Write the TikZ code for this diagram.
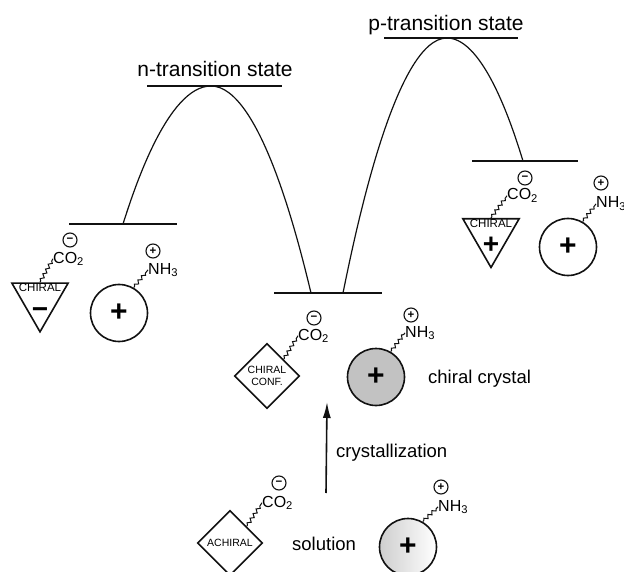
\documentclass[tikz,border=0pt]{standalone}
\usepackage{fontspec}
\setmainfont{Liberation Sans}
\usepackage{xcolor}
\usepackage{tikz}
\usetikzlibrary{arrows.meta,positioning,shapes.geometric,decorations.pathmorphing}
\definecolor{EnInk}{HTML}{111111}
\definecolor{EnStipple}{HTML}{C2C2C2}
\tikzset{
  elevel/.style={draw=EnInk,line width=2.2pt},
  ebarrier/.style={draw=EnInk,line width=1.2pt},
  etitle/.style={font=\fontsize{21}{25}\selectfont,inner sep=0pt},
  elabel/.style={font=\fontsize{18.5}{22}\selectfont,inner sep=0pt},
  echem/.style={font=\fontsize{16}{18}\selectfont,inner sep=0pt},
  etag/.style={font=\fontsize{11.5}{12}\selectfont,inner sep=0pt},
  echg/.style={circle,draw=EnInk,line width=1.1pt,inner sep=0pt,minimum size=14pt,
    font=\fontsize{11.5}{11.5}\selectfont\bfseries},
  esign/.style={font=\fontsize{28}{28}\selectfont\bfseries,inner sep=0pt},
  etri/.style={regular polygon,regular polygon sides=3,shape border rotate=180,
    draw=EnInk,line width=1.6pt,minimum size=65pt,inner sep=0pt},
  ediam/.style={diamond,aspect=1,draw=EnInk,line width=1.6pt,minimum size=65pt,
    inner sep=0pt,align=center,font=\fontsize{10.5}{12}\selectfont},
  eion/.style={circle,draw=EnInk,line width=1.6pt,minimum size=57pt,inner sep=0pt,
    font=\fontsize{30}{30}\selectfont\bfseries},
  ewavy/.style={draw=EnInk,line width=1pt,decorate,
    decoration={snake,segment length=5.5pt,amplitude=1.6pt,pre length=1.5pt,post length=1.5pt}},
  earrow/.style={-{Latex[length=16pt,width=8pt]},line width=1.6pt,EnInk}
}

\begin{document}
\begin{tikzpicture}[x=1pt,y=-1pt]
  \path[use as bounding box] (0,0) rectangle (624,572);

  % energy levels
  \foreach \lv/\xa/\xb/\yy in {lvlL/69/177/224,tsN/147/282/86,lvlM/274/382/293,tsP/384/518/38,lvlR/472/578/161}{
    \coordinate (\lv-w) at (\xa,\yy);
    \coordinate (\lv-e) at (\xb,\yy);
    \draw[elevel] (\lv-w) -- (\lv-e);
  }
  \coordinate (lvlL-c) at (123,224);
  \coordinate (tsN-c) at (211,86);
  \coordinate (lvlM-a) at (311,293);
  \coordinate (lvlM-b) at (343,293);
  \coordinate (tsP-c) at (447,38);
  \coordinate (lvlR-c) at (523,161);
  \draw[ebarrier] (lvlL-c) parabola bend (tsN-c) (lvlM-a);
  \draw[ebarrier] (lvlM-b) parabola bend (tsP-c) (lvlR-c);

  \node[etitle,anchor=base] (tsNlab) at (215,77) {n-transition state};
  \node[etitle,anchor=base] (tsPlab) at (446,31) {p-transition state};

  % left pair
  \node[etri] (triL) at (40,299.3) {};
  \node[etag,below=1.5pt of triL.north] (triLtag) {CHIRAL};
  \node[esign] (triLsg) at (40,313) {−};
  \node[echem,anchor=base west] (coL) at (53,263) {CO\textsubscript{2}};
  \node[echg] (coLq) at (70,240) {−};
  \draw[ewavy] (triL.north) -- (coL.west);
  \node[eion] (ionL) at (119,313) {+};
  \node[echem,anchor=base west] (nhL) at (148,274) {NH\textsubscript{3}};
  \node[echg] (nhLq) at (153,251) {+};
  \draw[ewavy] (ionL.60) -- (nhL.west);

  % right pair
  \node[etri] (triR) at (491,235) {};
  \node[etag,below=1.5pt of triR.north] (triRtag) {CHIRAL};
  \node[esign] (triRsg) at (491,245) {+};
  \node[echem,anchor=base west] (coR) at (507,200) {CO\textsubscript{2}};
  \node[echg] (coRq) at (525,178) {−};
  \draw[ewavy] (triR.north) -- (coR.west);
  \node[eion] (ionR) at (568,247) {+};
  \node[echem,anchor=base west] (nhR) at (596,208) {NH\textsubscript{3}};
  \node[echg] (nhRq) at (601,183) {+};
  \draw[ewavy] (ionR.60) -- (nhR.west);

  % chiral crystal
  \node[ediam] (diaM) at (267,376) {CHIRAL\\CONF.};
  \node[echem,anchor=base west] (coM) at (298,340) {CO\textsubscript{2}};
  \node[echg] (coMq) at (314,318) {−};
  \draw[ewavy] (diaM.north east) -- (coM.west);
  \node[eion,fill=EnStipple] (ionM) at (376,377) {+};
  \node[echem,anchor=base west] (nhM) at (405,337) {NH\textsubscript{3}};
  \node[echg] (nhMq) at (411,315) {+};
  \draw[ewavy] (ionM.60) -- (nhM.west);
  \node[elabel,anchor=base west] (crys) at (428,383) {chiral crystal};

  \coordinate (arrB) at (326,493);
  \coordinate (arrT) at (327,402);
  \draw[earrow] (arrB) -- (arrT);
  \node[elabel,anchor=base west] (crysz) at (336,457) {crystallization};

  % solution
  \node[ediam] (diaB) at (230,543) {ACHIRAL};
  \node[echem,anchor=base west] (coB) at (262,507) {CO\textsubscript{2}};
  \node[echg] (coBq) at (279,483) {−};
  \draw[ewavy] (diaB.north east) -- (coB.west);
  \node[elabel,anchor=base west] (soln) at (292,550) {solution};
  \node[eion,left color=EnStipple!80,right color=white] (ionB) at (408,547) {+};
  \node[echem,anchor=base west] (nhB) at (438,511) {NH\textsubscript{3}};
  \node[echg] (nhBq) at (441,487) {+};
  \draw[ewavy] (ionB.60) -- (nhB.west);
\end{tikzpicture}
\end{document}
